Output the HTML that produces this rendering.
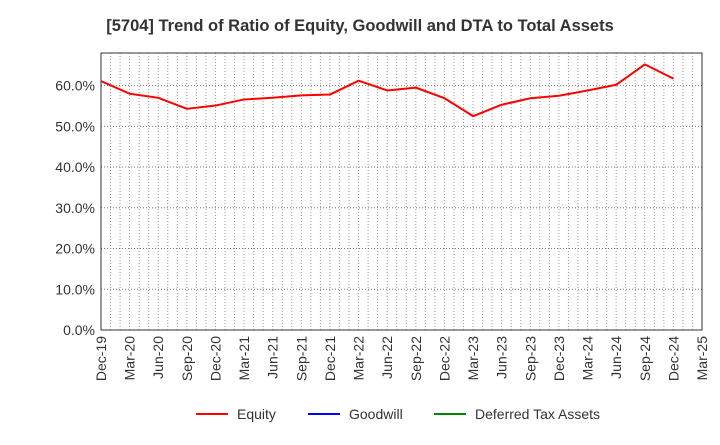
<!DOCTYPE html>
<html><head><meta charset="utf-8"><style>
body{margin:0;background:#fff;font-family:"Liberation Sans",Arial,sans-serif;}
</style></head><body>
<svg width="720" height="440" xmlns="http://www.w3.org/2000/svg" font-family="Liberation Sans, Arial, sans-serif">
<text x="360" y="31" text-anchor="middle" font-size="16.5" font-weight="bold" fill="#333">[5704]  Trend of Ratio of Equity, Goodwill and DTA to Total Assets</text>
<g id="grid"></g>
<g id="yaxis"></g>
<g id="xaxis"></g>
<g id="series"></g>
<rect x="101" y="53" width="601" height="277" fill="none" stroke="#333" stroke-width="1"/>
<g>
<g><line x1="196" y1="414" x2="228" y2="414" stroke="#f00" stroke-width="2"/><text x="237" y="419" font-size="14" fill="#333">Equity</text></g>
<g><line x1="308" y1="414" x2="340" y2="414" stroke="#00f" stroke-width="2"/><text x="349" y="419" font-size="14" fill="#333">Goodwill</text></g>
<g><line x1="434" y1="414" x2="466" y2="414" stroke="#080" stroke-width="2"/><text x="475" y="419" font-size="14" fill="#333">Deferred Tax Assets</text></g>
</g>
</svg>
<script>
const categories=["Dec-19","Mar-20","Jun-20","Sep-20","Dec-20","Mar-21","Jun-21","Sep-21","Dec-21","Mar-22","Jun-22","Sep-22","Dec-22","Mar-23","Jun-23","Sep-23","Dec-23","Mar-24","Jun-24","Sep-24","Dec-24","Mar-25"];
const equity=[61.1,58.0,57.0,54.3,55.1,56.6,57.0,57.6,57.8,61.2,58.8,59.5,56.9,52.5,55.3,56.9,57.5,58.8,60.2,65.2,61.7];
const yTicks=[0,10,20,30,40,50,60];
const NS="http://www.w3.org/2000/svg";
const L=101,R=702,T=53,B=330,YMAX=68;
const x=i=>L+i*(R-L)/(categories.length-1);
const y=v=>B-v/YMAX*(B-T);
function mk(tag,attrs,parent){const e=document.createElementNS(NS,tag);for(const k in attrs)e.setAttribute(k,attrs[k]);parent.appendChild(e);return e;}
const grid=document.getElementById('grid'),ya=document.getElementById('yaxis'),xa=document.getElementById('xaxis'),se=document.getElementById('series');
const months=(categories.length-1)*3;
for(let m=1;m<months;m++){const xx=L+m*(R-L)/months;const g=mk('line',{x1:xx,x2:xx,y1:T,y2:B,stroke:'#999','stroke-dasharray':'1,2','stroke-width':1},grid);

}
yTicks.forEach(v=>{
 if(v>0){const g=mk('line',{x1:L,x2:R,y1:y(v),y2:y(v),stroke:'#777','stroke-dasharray':'1,2','stroke-width':1},grid);
 
 }
 const t=mk('text',{x:L-6,y:y(v)+5,'text-anchor':'end','font-size':14,fill:'#333'},ya);t.textContent=v.toFixed(1)+'%';
 
 
});
categories.forEach((c,i)=>{
 const t=mk('text',{transform:`translate(${x(i)+5},${B+6}) rotate(-90)`,'text-anchor':'end','font-size':14,fill:'#333'},xa);t.textContent=c;
 
 
});
const p=mk('polyline',{points:equity.map((v,i)=>x(i)+','+y(v)).join(' '),fill:'none',stroke:'#f00','stroke-width':2,'stroke-linejoin':'round'},se);


</script>
</body></html>
